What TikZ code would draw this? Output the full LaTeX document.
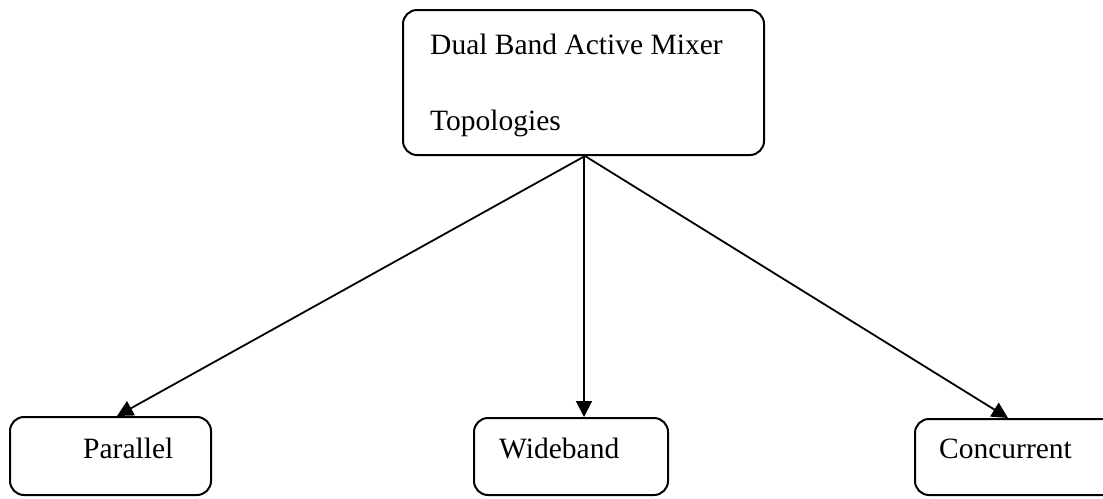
\documentclass[tikz,border=0pt]{standalone}
\usepackage{fontspec}
\setmainfont{Liberation Serif}
\usetikzlibrary{arrows.meta}
\begin{document}
\begin{tikzpicture}[x=1pt,y=-1pt,
  box/.style={draw, line width=2pt, rounded corners=14pt, inner sep=0pt},
  lbl/.style={anchor=base west, inner sep=0pt, font=\fontsize{29.5}{35}\selectfont},
  conn/.style={line width=1.8pt, -{Triangle[length=16pt,width=16pt]}}]
\useasboundingbox (0,0) rectangle (1103,498);
\node[box, minimum width=361pt, minimum height=145pt] (top) at (583.5,82.5) {};
\node[lbl] (t1) at (430,54) {Dual Band Active Mixer};
\node[lbl] (t2) at (430,130) {Topologies};
\node[box, minimum width=201pt, minimum height=78pt] (par) at (110.5,456) {};
\node[lbl] (pl) at (83,458) {Parallel};
\node[box, minimum width=194pt, minimum height=77pt] (wid) at (571,456.5) {};
\node[lbl] (wl) at (499,458) {Wideband};
\node[box, minimum width=205pt, minimum height=76pt] (con) at (1017.5,457) {};
\node[lbl] (cl) at (939,458) {Concurrent};
\draw[conn] ([xshift=1.5pt]top.south) -- ([xshift=6.5pt]par.north);
\draw[conn] ([xshift=0.5pt]top.south) -- ([xshift=13pt]wid.north);
\draw[conn] ([xshift=1.5pt]top.south) -- ([xshift=-9.5pt]con.north);
\end{tikzpicture}
\end{document}
